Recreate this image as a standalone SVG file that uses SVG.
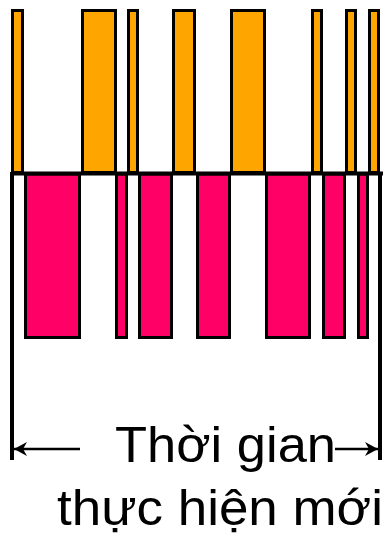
<svg xmlns="http://www.w3.org/2000/svg" width="388" height="535" viewBox="0 0 388 535">
<style>
.o{fill:#FFA500;stroke:#000;stroke-width:3}
.p{fill:#FF0066;stroke:#000;stroke-width:3}
.ln{stroke:#000;fill:none}
.t{font-family:"Liberation Sans",Arial,sans-serif;font-size:50px;fill:#000}
</style>
<defs>
<marker id="ah" viewBox="0 0 13 14" refX="13" refY="7" markerWidth="13" markerHeight="14" markerUnits="userSpaceOnUse" orient="auto-start-reverse">
<path d="M13,7 L0,0 L4,7 L0,14 Z" fill="#000"/>
</marker>
</defs>
<g id="orange-bars">
<rect class="o" x="12.5" y="10.5" width="10" height="162"/>
<rect class="o" x="82.5" y="10.5" width="33" height="162"/>
<rect class="o" x="128.5" y="10.5" width="9" height="162"/>
<rect class="o" x="173.5" y="10.5" width="21" height="162"/>
<rect class="o" x="231.5" y="10.5" width="33" height="162"/>
<rect class="o" x="312.5" y="10.5" width="9" height="162"/>
<rect class="o" x="346.5" y="10.5" width="9" height="162"/>
<rect class="o" x="369.5" y="10.5" width="9" height="162"/>
</g>
<g id="pink-bars">
<rect class="p" x="25.5" y="174" width="54" height="163.5"/>
<rect class="p" x="116.5" y="174" width="10" height="163.5"/>
<rect class="p" x="139.5" y="174" width="32" height="163.5"/>
<rect class="p" x="197.5" y="174" width="32" height="163.5"/>
<rect class="p" x="266.5" y="174" width="43" height="163.5"/>
<rect class="p" x="323.5" y="174" width="21" height="163.5"/>
<rect class="p" x="358.5" y="174" width="9" height="163.5"/>
</g>
<g id="connectors">
<line class="ln" x1="11" y1="173.5" x2="383" y2="173.5" stroke-width="4"/>
<line class="ln" x1="12" y1="172" x2="12" y2="460" stroke-width="4"/>
<line class="ln" x1="380" y1="172" x2="380" y2="460" stroke-width="4"/>
<line class="ln" x1="14" y1="449" x2="80" y2="449" stroke-width="2.5" marker-start="url(#ah)"/>
<line class="ln" x1="335" y1="449" x2="378" y2="449" stroke-width="2.5" marker-end="url(#ah)"/>
</g>
<g id="label">
<text class="t" x="115" y="462" textLength="221" lengthAdjust="spacingAndGlyphs">Thời gian</text>
<text class="t" x="57" y="525" textLength="326" lengthAdjust="spacingAndGlyphs">thực hiện mới</text>
</g>
</svg>
